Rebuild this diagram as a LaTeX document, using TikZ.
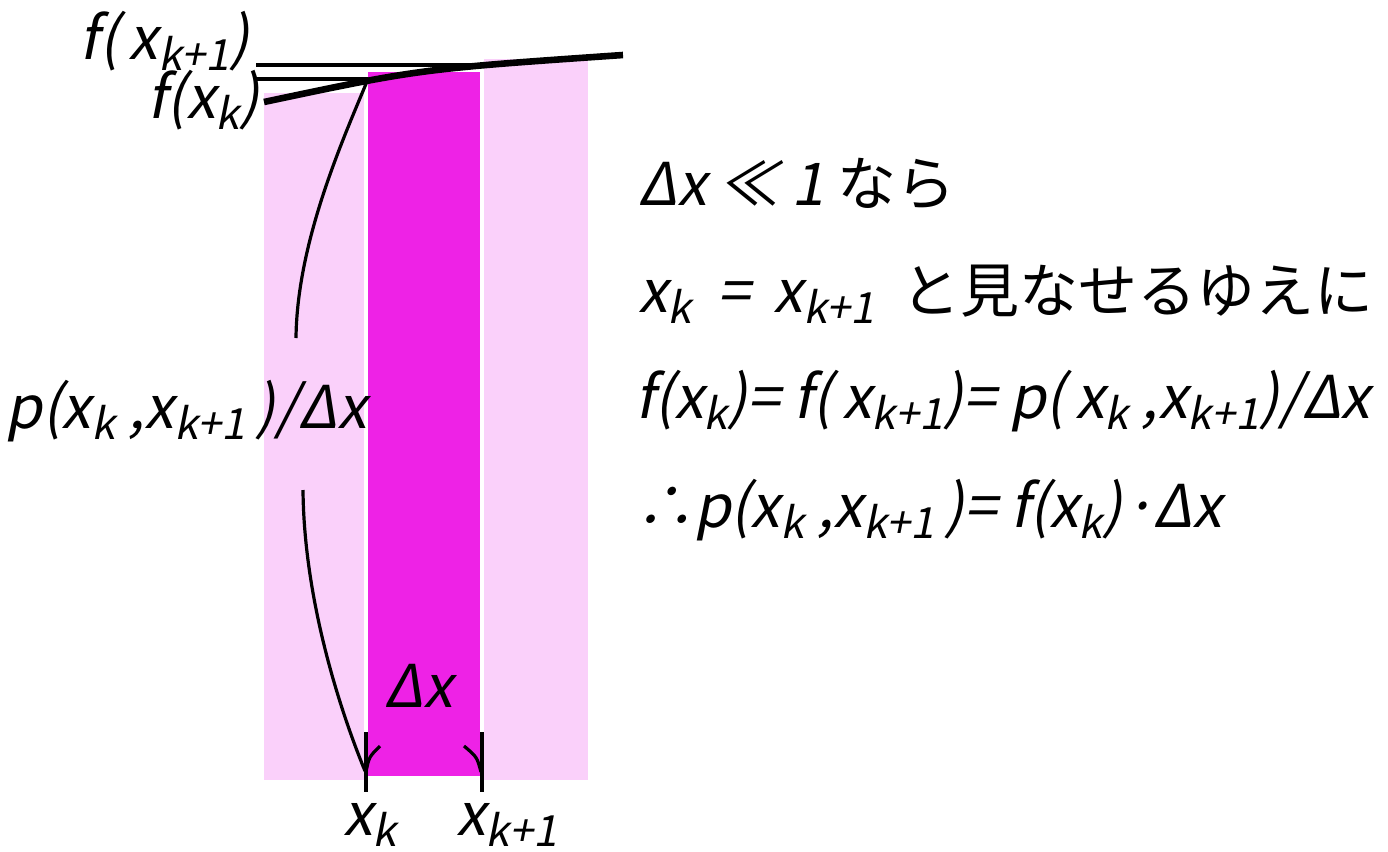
\documentclass[tikz,border=0pt]{standalone}
\usepackage{fontspec}
\setmainfont{Noto Sans CJK JP}
\newfontfamily\jpfont{Noto Sans CJK JP}
\newfontfamily\slfont{Noto Sans CJK JP}[FakeSlant=0.2]
\definecolor{pinklt}{RGB}{250,208,250}
\definecolor{magbar}{RGB}{238,34,230}
\newcommand{\sbs}[1]{\raisebox{-0.2em}{\fontsize{21.5}{22}\selectfont #1}}

\begin{document}
\begin{tikzpicture}[
  x=0.5pt,y=-0.5pt,
  line join=round,
  thinline/.style={line width=1.6pt},
  fcurve/.style={line width=3.3pt},
  tickmark/.style={line width=2pt},
  lbl/.style={font=\slfont\fontsize{29.5}{32}\selectfont,inner sep=0pt}
]
  \useasboundingbox (0,0) rectangle (1388,852);

  % Bars
  \fill[pinklt] (264,93) rectangle (364,780);
  \fill[magbar] (368,72) rectangle (480,776);
  \fill[pinklt] (484,59) rectangle (588,780);

  % Levels f(x_k), f(x_{k+1})
  \coordinate (fk) at (368,79);
  \coordinate (fkk) at (480,65);
  \draw[thinline] (256,65) -- (fkk);
  \draw[thinline] (256,79) -- (fk);

  % Curve
  \draw[fcurve] (264,102) .. controls (420,69) .. (623,55);

  % Ticks at x_k and x_{k+1}
  \foreach \nm/\xx in {k/366,kk/482}{
    \coordinate (\nm top) at (\xx,732);
    \coordinate (\nm bot) at (\xx,792);
    \draw[tickmark] (\nm top) -- (\nm bot);
  }
  \draw[thinline] (380,746) .. controls (369,757) .. (366,772);
  \draw[thinline] (464,746) .. controls (477,757) .. (481,772);

  % Labels
  \node[lbl,anchor=base east] (lfkk) at (250,59) {f(\,x\sbs{k+1})};
  \node[lbl,anchor=base east] (lfk) at (260,118) {f(x\sbs{k})};
  \node[lbl,anchor=base] (lp) at (186,428) {p(x\sbs{k} ,x\sbs{k+1}\,)/Δx};
  \node[lbl,anchor=base] (ldx) at (419,707) {Δx};
  \node[lbl,anchor=base] (lxk) at (370,835) {x\sbs{k}};
  \node[lbl,anchor=base west] (lxkk) at (456,835) {x\sbs{k+1}};

  % Arc from the curve down to x_k
  \coordinate (ptop) at (296,338);
  \coordinate (pbot) at (303,490);
  \coordinate (xkend) at (365,771);
  \draw[thinline] (fk) .. controls (345,135) and (297,240) .. (ptop);
  \draw[thinline] (pbot) .. controls (304,600) and (340,710) .. (xkend);

  % Text on the right
  \node[lbl,anchor=base west] (t1) at (638,205) {Δx ≪ 1 {\jpfont なら}};
  \node[lbl,anchor=base west] (t2) at (638,312) {x\sbs{k}\ \ =\ \,x\sbs{k+1}\ \ {\jpfont と見なせるゆえに}};
  \node[lbl,anchor=base west] (t3) at (635,418) {f(x\sbs{k})= f(\,x\sbs{k+1})= p(\,x\sbs{k} ,x\sbs{k+1})/Δx};
  \node[lbl,anchor=base west] (t4) at (635,527) {∴p(x\sbs{k} ,x\sbs{k+1}\,)= f(x\sbs{k})·Δx};
\end{tikzpicture}
\end{document}
